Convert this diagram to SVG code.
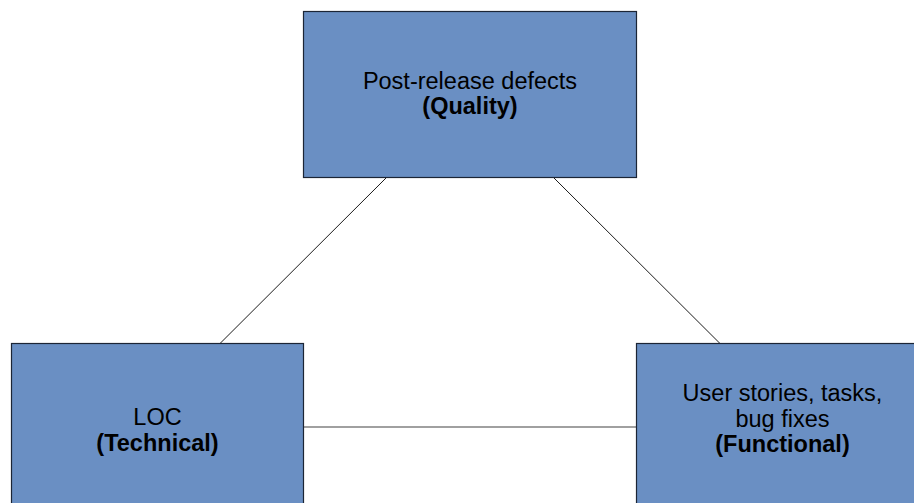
<svg xmlns="http://www.w3.org/2000/svg" width="914" height="503" viewBox="0 0 914 503">
  <style>
    .box { fill: #6a8fc3; stroke: #1c2535; stroke-width: 1.2; }
    .t { font-family: "Liberation Sans", Arial, sans-serif; font-size: 23.5px; fill: #000; text-anchor: middle; }
    .b { font-weight: bold; }
    .diag { stroke: #1a1a1a; stroke-width: 1; fill: none; }
    .hor { stroke: #808080; stroke-width: 1.4; fill: none; }
  </style>
  <rect width="914" height="503" fill="#ffffff"/>
  <g id="connectors">
    <line class="diag" x1="386.5" y1="177.5" x2="220" y2="343.5"/>
    <line class="diag" x1="553.5" y1="177.5" x2="720" y2="343.5"/>
    <line class="hor" x1="303.5" y1="427" x2="636.5" y2="427"/>
  </g>
  <g id="quality">
    <rect class="box" x="303.5" y="11.5" width="333" height="166"/>
    <text class="t" x="470" y="88.5">Post-release defects</text>
    <text class="t b" x="470" y="114">(Quality)</text>
  </g>
  <g id="technical">
    <rect class="box" x="11.5" y="343.5" width="292" height="170"/>
    <text class="t" x="157.5" y="424.5">LOC</text>
    <text class="t b" x="157.5" y="450.5">(Technical)</text>
  </g>
  <g id="functional">
    <rect class="box" x="636.5" y="343.5" width="292" height="170"/>
    <text class="t" x="782.5" y="401">User stories, tasks,</text>
    <text class="t" x="782.5" y="427">bug fixes</text>
    <text class="t b" x="782.5" y="452">(Functional)</text>
  </g>
</svg>
